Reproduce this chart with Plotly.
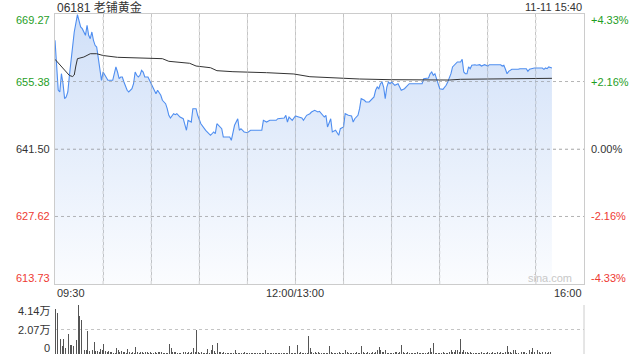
import plotly.graph_objects as go

# ---------------- data ----------------
title_text = "06181 老铺黄金"
stamp_text = "11-11 15:40"
prev_close = 641.50
price_ticks = [669.27, 655.38, 641.50, 627.62, 613.73]
pct_ticks = ["+4.33%", "+2.16%", "0.00%", "-2.16%", "-4.33%"]
vol_ticks = [41400, 20700, 0]
vol_tick_text = ["4.14万", "2.07万", "0"]
x_tick_minutes = [0, 150, 330]
x_tick_labels = ["09:30", "12:00/13:00", "16:00"]

price_t = [0, 2, 3, 4, 5, 6, 7, 8, 9, 10, 11, 12, 14, 15, 16, 17, 18, 19, 20, 21,
           22, 23, 24, 25, 26, 27, 28, 29, 30, 31, 32, 33, 36, 37, 38, 39, 40, 41, 42, 43,
           44, 45, 46, 48, 49, 50, 51, 52, 53, 54, 55, 56, 58, 59, 60, 61, 62, 63, 64, 66,
           67, 68, 69, 70, 71, 72, 73, 74, 75, 76, 77, 78, 80, 82, 83, 85, 86, 88, 89, 91,
           94, 95, 97, 99, 100, 101, 103, 104, 105, 109, 110, 112, 114, 115, 116, 118, 120, 122, 129, 130,
           132, 134, 138, 139, 143, 144, 145, 146, 148, 150, 152, 154, 155, 157, 159, 160, 162, 164, 165, 167,
           168, 169, 170, 172, 173, 175, 177, 178, 180, 181, 183, 185, 186, 187, 189, 190, 191, 193, 194, 196,
           198, 199, 200, 201, 202, 203, 204, 205, 206, 207, 208, 209, 210, 212, 214, 215, 216, 218, 220, 221,
           229, 230, 233, 234, 235, 236, 237, 238, 239, 240, 242, 244, 245, 247, 248, 251, 253, 254, 255, 256,
           257, 258, 259, 260, 262, 263, 265, 266, 268, 270, 271, 278, 279, 280, 281, 282, 283, 285, 289, 290,
           294, 295, 296, 299, 304, 305, 306, 307, 308, 310]
price_v = [663.86, 653.64, 653.23, 656.99, 654.93, 651.85, 652.20, 653.23, 656.66, 659.40,
           662.83, 665.57, 669.13, 667.62, 666.60, 666.25, 665.57, 664.89, 666.95, 664.89,
           664.19, 665.57, 663.86, 662.83, 662.48, 660.08, 658.02, 655.63, 657.34, 656.66,
           655.96, 655.63, 655.63, 657.13, 658.37, 657.34, 655.96, 656.31, 656.31, 655.28,
           654.25, 653.58, 653.23, 653.90, 654.93, 657.34, 656.66, 656.31, 656.66, 657.69,
           657.34, 656.31, 656.31, 655.63, 655.28, 654.60, 653.90, 652.88, 653.58, 652.55,
           651.52, 651.17, 650.82, 649.79, 648.43, 647.88, 648.43, 648.76, 648.56, 648.76,
           648.43, 648.08, 647.73, 645.35, 647.40, 647.05, 649.79, 649.79, 648.43, 646.70,
           645.35, 645.00, 644.32, 645.00, 644.65, 646.70, 646.03, 645.68, 643.97, 643.97,
           643.29, 646.38, 647.73, 645.35, 645.68, 645.00, 644.85, 645.35, 645.35, 647.40,
           647.05, 647.40, 647.40, 647.73, 647.88, 648.43, 647.05, 648.08, 647.40, 648.29,
           648.08, 647.88, 647.40, 648.43, 648.76, 649.11, 649.46, 649.11, 649.25, 648.43,
           648.08, 648.43, 646.03, 647.73, 645.00, 645.35, 644.32, 645.68, 646.03, 648.76,
           648.43, 648.29, 647.05, 647.73, 648.43, 649.79, 651.85, 651.52, 651.17, 651.17,
           651.85, 652.20, 653.58, 654.25, 653.90, 654.93, 655.28, 654.25, 651.85, 654.25,
           655.28, 654.93, 655.28, 654.60, 654.93, 654.25, 653.58, 653.90, 654.60, 654.93,
           654.93, 655.96, 656.11, 656.99, 657.34, 656.66, 656.99, 655.96, 654.93, 653.90,
           653.78, 654.60, 655.28, 656.99, 658.37, 659.40, 659.40, 659.95, 657.34, 656.99,
           656.99, 658.37, 658.02, 658.72, 658.84, 658.72, 658.84, 658.57, 658.84, 658.57,
           658.84, 658.84, 658.57, 658.72, 657.89, 656.99, 657.48, 657.89, 657.89, 658.02,
           658.02, 657.48, 657.89, 658.16, 658.16, 657.89, 658.16, 658.02, 658.37, 658.16]

avg_t = [0, 2, 4, 6, 8, 9, 11, 12, 13, 14, 18, 22, 26, 28, 30, 39, 51, 59, 67, 71,
         74, 80, 84, 88, 97, 101, 111, 132, 149, 159, 165, 178, 190, 209, 228, 246, 253, 271, 290, 310]
avg_v = [659.95, 659.19, 658.37, 657.55, 656.93, 656.62, 656.41, 656.72, 658.57, 660.08,
         660.42, 661.10, 661.10, 660.98, 660.73, 660.36, 660.28, 660.16, 660.08, 659.54,
         659.46, 659.25, 659.13, 658.57, 658.22, 657.61, 657.40, 657.20, 656.93, 656.37,
         656.25, 656.04, 655.90, 655.76, 655.69, 655.69, 655.84, 655.90, 655.96, 656.04]

volume = [
    38000, 34650, 2000, 12700, 6500, 12700, 5000, 3000, 17200, 7900,
    7900, 6500, 3700, 11550, 41700, 31800, 29000, 7000, 3700, 3700,
    19150, 2250, 1800, 3700, 9850, 2250, 2250, 1300, 4200, 3700,
    8750, 2500, 1500, 2500, 2000, 1300, 800, 1000, 5000, 3700,
    2000, 2500, 1300, 2000, 1200, 4200, 1300, 800, 2000, 900,
    5900, 1300, 800, 2000, 1300, 800, 1300, 2000, 800, 2000,
    800, 800, 1300, 800, 2100, 1300, 2000, 800, 800, 1000,
    900, 8750, 5000, 1300, 2100, 2100, 800, 500, 800, 300,
    1300, 2000, 800, 1300, 900, 1300, 5000, 1300, 20550, 1300,
    800, 1300, 800, 800, 1200, 4200, 1000, 3700, 7900, 2500,
    900, 9300, 1300, 1300, 800, 1300, 800, 600, 800, 600,
    800, 600, 3700, 800, 600, 800, 600, 900, 2000, 800,
    600, 800, 1000, 800, 900, 800, 600, 800, 500, 800,
    600, 3100, 800, 600, 800, 900, 600, 800, 700, 600,
    800, 600, 800, 900, 700, 800, 7000, 800, 600, 900,
    800, 7900, 800, 2000, 800, 600, 900, 700, 15500, 5000,
    1300, 900, 2000, 900, 1300, 800, 900, 700, 800, 600,
    900, 6500, 1300, 800, 900, 700, 800, 1300, 700, 800,
    900, 3100, 1300, 800, 900, 700, 800, 900, 1300, 800,
    700, 7000, 1300, 800, 900, 1300, 700, 800, 2000, 900,
    1300, 3700, 5900, 3700, 1300, 2000, 3700, 800, 900, 700,
    800, 900, 1300, 1300, 800, 1300, 7900, 1300, 800, 900,
    1300, 800, 900, 700, 900, 800, 1300, 700, 900, 800,
    800, 900, 700, 1300, 5000, 1300, 9300, 800, 600, 900,
    800, 700, 1300, 800, 900, 800, 2000, 3700, 1300, 2000,
    3100, 3700, 1300, 12700, 2000, 3700, 2000, 1300, 900, 1300,
    800, 900, 800, 700, 900, 800, 1300, 800, 900, 700,
    1300, 800, 900, 1300, 700, 900, 1300, 800, 1300, 900,
    800, 1300, 6500, 2000, 1300, 900, 3100, 3100, 800, 900,
    7000, 1300, 1300, 2000, 800, 1300, 3100, 1300, 5000, 2000,
    3700, 3100, 1300, 800, 1300, 3100, 2000, 900, 2000, 1300,
    800]
vol_t = list(range(len(volume)))

# ---------------- styling ----------------
FONT = "Liberation Sans, Arial, Noto Sans CJK SC, sans-serif"
GREEN = "#1f9e1f"
RED = "#ee3a33"
DARK = "#333333"
GRID = "#c4c4c4"
GRID_OVER = "rgba(170,170,170,0.55)"
BORDER = "#cccccc"

W, H = 640, 360
L, R = 55, 584
P_TOP, P_BOT = 14, 284
V_TOP, V_BOT = 305, 354

def px(xp):
    return xp / W

def py(yp):
    return 1 - yp / H

fig = go.Figure()

fig.add_trace(go.Scatter(
    x=price_t, y=price_v, mode="lines",
    line=dict(color="#4f8ef0", width=1.1),
    fill="tozeroy",
    fillgradient=dict(type="vertical",
                      colorscale=[[0, "rgba(150,185,240,0.04)"], [1, "rgba(150,185,240,0.45)"]],
                      start=price_ticks[-1], stop=price_ticks[0]),
    xaxis="x", yaxis="y", hoverinfo="skip", showlegend=False))

fig.add_trace(go.Scatter(
    x=avg_t, y=avg_v, mode="lines",
    line=dict(color="#333333", width=1),
    xaxis="x", yaxis="y", hoverinfo="skip", showlegend=False))

fig.add_trace(go.Bar(
    x=vol_t, y=volume, width=0.6,
    marker=dict(color="#555555", line=dict(width=0)),
    xaxis="x2", yaxis="y2", hoverinfo="skip", showlegend=False))

grid_minutes = list(range(0, 331, 30))

fig.update_layout(
    width=W, height=H,
    margin=dict(l=0, r=0, t=0, b=0),
    paper_bgcolor="white", plot_bgcolor="rgba(0,0,0,0)",
    font=dict(family=FONT, size=11, color=DARK),
    bargap=0,
    xaxis=dict(domain=[px(L), px(R)], range=[0, 330], tickvals=grid_minutes,
               showticklabels=False, ticks="", showgrid=True, gridcolor=GRID,
               griddash="dot", gridwidth=1, zeroline=False,
               showline=True, linecolor=BORDER, linewidth=1, mirror=True,
               fixedrange=True),
    yaxis=dict(domain=[py(P_BOT), py(P_TOP)], range=[price_ticks[-1], price_ticks[0]],
               tickvals=price_ticks, showticklabels=False, ticks="",
               showgrid=True, gridcolor=GRID, griddash="dot", gridwidth=1,
               zeroline=False, showline=True, linecolor=BORDER, linewidth=1,
               mirror=True, fixedrange=True),
    xaxis2=dict(domain=[px(L), px(R)], range=[-0.5, 330], anchor="y2",
                tickvals=grid_minutes, showticklabels=False, ticks="",
                showgrid=False, zeroline=False, showline=False, fixedrange=True),
    yaxis2=dict(domain=[py(V_BOT), py(V_TOP)], range=[0, vol_ticks[0]], anchor="x2",
                tickvals=vol_ticks, showticklabels=False, ticks="",
                showgrid=True, gridcolor=GRID, griddash="dot", gridwidth=1,
                zeroline=False, showline=False, fixedrange=True),
)

# grid lines repeated faintly above the filled area so they show through it
for m in grid_minutes[1:-1]:
    fig.add_shape(type="line", xref="x", yref="y domain", x0=m, x1=m, y0=0, y1=1,
                  layer="above", line=dict(color=GRID_OVER, width=1, dash="dot"))
for v in price_ticks[1:-1]:
    fig.add_shape(type="line", xref="x domain", yref="y", x0=0, x1=1, y0=v, y1=v,
                  layer="above", line=dict(color=GRID_OVER, width=1, dash="dot"))

# right border of the volume panel
fig.add_shape(type="line", xref="x2 domain", yref="y2 domain",
              x0=1, x1=1, y0=0, y1=1, line=dict(color=BORDER, width=1))

ann = []
# header
ann.append(dict(text=title_text, xref="paper", yref="paper", x=px(L), y=py(7),
                xanchor="left", yanchor="middle", showarrow=False,
                font=dict(size=12, color=DARK)))
ann.append(dict(text=stamp_text, xref="paper", yref="paper", x=px(R), y=py(7),
                xanchor="right", yanchor="middle", showarrow=False,
                font=dict(size=11, color=DARK)))

# price labels (left) and percent labels (right)
colors = [GREEN, GREEN, DARK, RED, RED]
shifts = [-6, 0, 0, 0, 6]
for val, pct, col, sh in zip(price_ticks, pct_ticks, colors, shifts):
    ann.append(dict(text=f"{val:.2f}", xref="paper", yref="y", x=px(L - 3), y=val,
                    yshift=sh, xanchor="right", yanchor="middle", showarrow=False,
                    font=dict(size=11, color=col)))
    ann.append(dict(text=pct, xref="paper", yref="y", x=px(R + 5), y=val,
                    yshift=sh, xanchor="left", yanchor="middle", showarrow=False,
                    font=dict(size=11, color=col)))

# volume labels
vshifts = [-6, 0, 6]
for val, txt, sh in zip(vol_ticks, vol_tick_text, vshifts):
    ann.append(dict(text=txt, xref="paper", yref="y2", x=px(L - 3), y=val,
                    yshift=sh, xanchor="right", yanchor="middle", showarrow=False,
                    font=dict(size=11, color=DARK)))

# time labels
anchors = ["left", "center", "right"]
for m, txt, a in zip(x_tick_minutes, x_tick_labels, anchors):
    ann.append(dict(text=txt, xref="x", yref="paper", x=m, y=py(293),
                    xanchor=a, yanchor="middle", showarrow=False,
                    font=dict(size=11, color=DARK)))

# watermark
ann.append(dict(text="sina.com", xref="paper", yref="paper", x=px(574), y=py(278),
                xanchor="right", yanchor="middle", showarrow=False,
                font=dict(size=11, color="#c8c8c8")))

fig.update_layout(annotations=ann)

fig.write_html("out.html", config={"displayModeBar": False, "staticPlot": True})
